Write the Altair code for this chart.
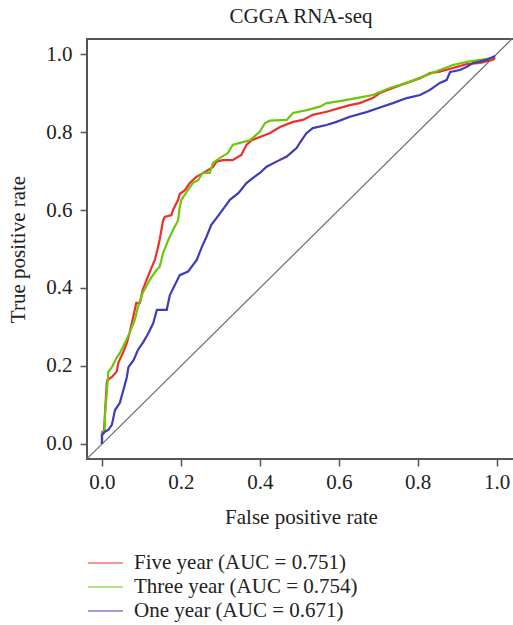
import altair as alt
import pandas as pd

# ---- data ----
series_names = ["Five year (AUC = 0.751)", "Three year (AUC = 0.754)", "One year (AUC = 0.671)"]
series_colors = ["#ee2f2a", "#6cc708", "#3c3cbc"]

five_fpr = [0.0, 0.0, 0.005, 0.008, 0.012, 0.014, 0.025, 0.037, 0.042, 0.054, 0.063, 0.070, 0.079, 0.087,
            0.096, 0.103, 0.113, 0.125, 0.134, 0.142, 0.146, 0.155, 0.159, 0.176, 0.180, 0.193, 0.197,
            0.210, 0.222, 0.239, 0.248, 0.281, 0.290, 0.306, 0.331, 0.353, 0.366, 0.379, 0.400, 0.425,
            0.451, 0.484, 0.509, 0.534, 0.569, 0.603, 0.628, 0.653, 0.686, 0.704, 0.737, 0.772, 0.806,
            0.831, 0.856, 0.889, 0.924, 0.958, 0.991, 0.996]
five_tpr = [0.0, 0.030, 0.030, 0.087, 0.156, 0.164, 0.172, 0.185, 0.210, 0.236, 0.259, 0.285, 0.326, 0.362,
            0.362, 0.395, 0.421, 0.451, 0.472, 0.505, 0.523, 0.574, 0.582, 0.587, 0.600, 0.626, 0.641,
            0.651, 0.669, 0.685, 0.690, 0.710, 0.724, 0.728, 0.728, 0.741, 0.767, 0.779, 0.787, 0.797,
            0.813, 0.826, 0.831, 0.844, 0.852, 0.862, 0.869, 0.874, 0.887, 0.900, 0.913, 0.926, 0.938,
            0.951, 0.955, 0.964, 0.974, 0.977, 0.985, 0.991]

three_fpr = [0.0, 0.0, 0.007, 0.008, 0.012, 0.016, 0.025, 0.037, 0.045, 0.058, 0.070, 0.083, 0.091, 0.103,
             0.121, 0.138, 0.146, 0.155, 0.168, 0.180, 0.193, 0.197, 0.201, 0.214, 0.230, 0.244, 0.255,
             0.273, 0.281, 0.298, 0.319, 0.331, 0.349, 0.375, 0.400, 0.413, 0.425, 0.468, 0.484, 0.519,
             0.552, 0.569, 0.603, 0.645, 0.686, 0.729, 0.772, 0.813, 0.856, 0.889, 0.924, 0.958, 0.991]
three_tpr = [0.0, 0.030, 0.036, 0.079, 0.131, 0.185, 0.197, 0.221, 0.233, 0.259, 0.285, 0.318, 0.351, 0.387,
             0.421, 0.446, 0.454, 0.490, 0.523, 0.549, 0.574, 0.608, 0.626, 0.646, 0.669, 0.677, 0.695,
             0.695, 0.721, 0.733, 0.746, 0.767, 0.772, 0.779, 0.801, 0.823, 0.829, 0.831, 0.849, 0.856,
             0.865, 0.874, 0.879, 0.887, 0.895, 0.913, 0.926, 0.942, 0.959, 0.972, 0.980, 0.985, 0.990]

one_fpr = [0.0, 0.0, 0.0, 0.008, 0.016, 0.025, 0.033, 0.045, 0.054, 0.063, 0.067, 0.080, 0.091, 0.105,
           0.118, 0.130, 0.139, 0.164, 0.172, 0.197, 0.218, 0.240, 0.252, 0.265, 0.277, 0.290, 0.311,
           0.324, 0.346, 0.366, 0.382, 0.400, 0.417, 0.442, 0.468, 0.493, 0.501, 0.518, 0.534, 0.569,
           0.594, 0.628, 0.670, 0.704, 0.737, 0.772, 0.806, 0.831, 0.856, 0.873, 0.882, 0.907, 0.924,
           0.940, 0.975, 0.996]
one_tpr = [0.0, 0.010, 0.023, 0.032, 0.036, 0.049, 0.087, 0.105, 0.138, 0.172, 0.197, 0.215, 0.241, 0.262,
           0.285, 0.310, 0.344, 0.344, 0.382, 0.433, 0.442, 0.472, 0.503, 0.532, 0.562, 0.579, 0.608,
           0.626, 0.644, 0.669, 0.682, 0.695, 0.711, 0.724, 0.737, 0.759, 0.772, 0.797, 0.810, 0.818,
           0.826, 0.839, 0.851, 0.863, 0.874, 0.887, 0.895, 0.908, 0.926, 0.933, 0.954, 0.959, 0.967,
           0.977, 0.985, 0.995]

diag_vals = [-0.1, 1.1]
x_ticks = [0.0, 0.2, 0.4, 0.6, 0.8, 1.0]
y_ticks = [0.0, 0.2, 0.4, 0.6, 0.8, 1.0]

# ---- build tables ----
rows = []
for name, xs, ys in zip(series_names, [five_fpr, three_fpr, one_fpr], [five_tpr, three_tpr, one_tpr]):
    for i, (a, b) in enumerate(zip(xs, ys)):
        rows.append({"series": name, "fpr": a, "tpr": b, "i": i})
df = pd.DataFrame(rows)
diag = pd.DataFrame({"fpr": diag_vals, "tpr": diag_vals})

FONT = "Liberation Serif"
FS = 21
xscale = alt.Scale(domain=[-0.038, 1.0464], nice=False, zero=False)
yscale = alt.Scale(domain=[-0.0385, 1.0385], nice=False, zero=False)

diag_line = alt.Chart(diag).mark_line(color="#6e6e6e", strokeWidth=1.2, clip=True).encode(
    x=alt.X("fpr:Q", scale=xscale),
    y=alt.Y("tpr:Q", scale=yscale),
)

curves = alt.Chart(df).mark_line(strokeWidth=2.2, clip=True).encode(
    x=alt.X("fpr:Q", scale=xscale,
            axis=alt.Axis(title="False positive rate", values=x_ticks, format=".1f", grid=False,
                          domain=False, tickSize=7, tickWidth=1.5, tickColor="#555",
                          labelPadding=5, titlePadding=14)),
    y=alt.Y("tpr:Q", scale=yscale,
            axis=alt.Axis(title="True positive rate", values=y_ticks, format=".1f", grid=False,
                          domain=False, tickSize=7, tickWidth=1.5, tickColor="#555",
                          labelPadding=8, titlePadding=17)),
    color=alt.Color("series:N", sort=series_names,
                    scale=alt.Scale(domain=series_names, range=series_colors),
                    legend=alt.Legend(title=None, orient="none", legendX=0, legendY=512,
                                      symbolType="stroke", symbolSize=1225, symbolStrokeWidth=1.2,
                                      clipHeight=24, rowPadding=0, labelOffset=10, padding=0,
                                      labelFont=FONT, labelFontSize=FS, labelColor="#222",
                                      labelLimit=400)),
    order="i:Q",
)

chart = alt.layer(diag_line, curves).properties(
    width=428, height=420,
    title=alt.TitleParams("CGGA RNA-seq", font=FONT, fontSize=FS, fontWeight="normal",
                          color="#222", anchor="middle", offset=12),
    autosize=alt.AutoSizeParams(type="none"),
    padding={"left": 87, "top": 39, "right": -2, "bottom": 166},
).configure_view(stroke="#555", strokeWidth=2).configure_axis(
    labelFont=FONT, labelFontSize=FS, labelColor="#222",
    titleFont=FONT, titleFontSize=FS, titleFontWeight="normal", titleColor="#222",
)

chart.save("out.html", embed_options={"renderer": "svg", "actions": False})
